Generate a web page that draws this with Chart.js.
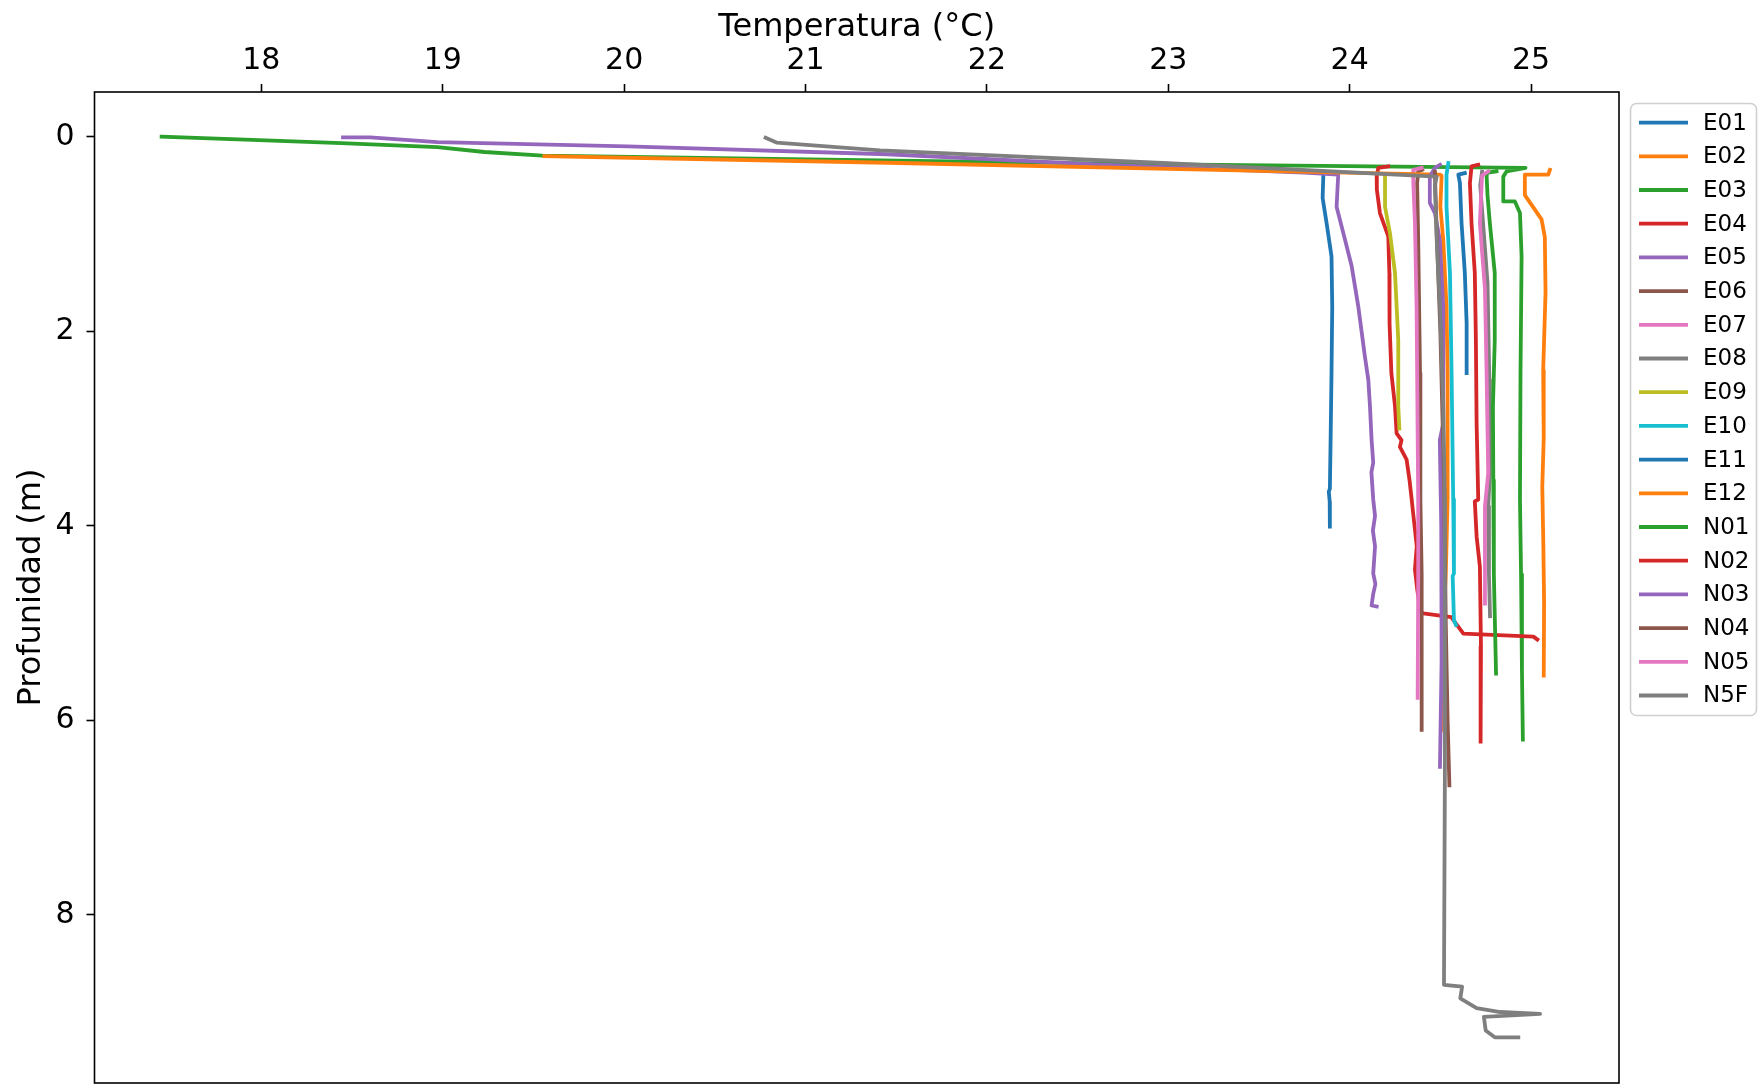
<!DOCTYPE html>
<html>
<head>
<meta charset="utf-8">
<title>Perfiles de temperatura</title>
<script src="https://cdn.jsdelivr.net/npm/chart.js@4.4.1/dist/chart.umd.min.js"></script>
<style>
  html, body { margin: 0; padding: 0; background: #fff; }
  #wrap { width: 1764px; height: 1088px; position: relative; }
</style>
</head>
<body>
<div id="wrap"><canvas id="profiles"></canvas></div>
<script>
// Station names, in plotting order
const stations = ["E01", "E02", "E03", "E04", "E05", "E06", "E07", "E08", "E09",
  "E10", "E11", "E12", "N01", "N02", "N03", "N04", "N05", "N5F"];

// Axis ticks
const xTicks = [18, 19, 20, 21, 22, 23, 24, 25];
const yTicks = [0, 2, 4, 6, 8];

// Temperature (°C) and depth (m) per station
const e01T = [23.855, 23.851, 23.873, 23.90, 23.904, 23.90, 23.895, 23.891, 23.885, 23.89, 23.891];
const e01D = [0.39, 0.63, 0.89, 1.23, 1.75, 2.43, 3.12, 3.62, 3.65, 3.75, 4.01];

const e02T = [25.104, 25.095, 24.966, 24.966, 25.058, 25.076, 25.08, 25.067, 25.07, 25.062, 25.068, 25.072, 25.07];
const e02D = [0.34, 0.39, 0.39, 0.60, 0.85, 1.03, 1.6, 2.4, 3.1, 3.6, 4.2, 4.8, 5.54];

const e03T = [17.45, 17.91, 18.44, 18.97, 19.23, 19.55, 21.41, 23.0, 24.97, 24.865, 24.847, 24.847, 24.911, 24.939, 24.948, 24.942, 24.939, 24.945, 24.95, 24.955];
const e03D = [0.0, 0.03, 0.065, 0.106, 0.157, 0.195, 0.244, 0.285, 0.32, 0.357, 0.41, 0.665, 0.665, 0.785, 1.23, 2.43, 3.73, 4.5, 5.5, 6.2];

const e04T = [24.213, 24.158, 24.149, 24.15, 24.167, 24.213, 24.219, 24.22, 24.23, 24.25, 24.259, 24.286, 24.277, 24.314, 24.33, 24.342, 24.35, 24.37, 24.36, 24.373, 24.39, 24.406, 24.56, 24.627, 25.013, 25.035];
const e04D = [0.305, 0.32, 0.408, 0.545, 0.785, 1.025, 1.40, 1.92, 2.43, 2.77, 3.05, 3.12, 3.19, 3.32, 3.53, 3.73, 3.87, 4.21, 4.45, 4.66, 4.88, 4.90, 4.94, 5.11, 5.14, 5.17];

const e05T = [18.45, 18.6, 18.97, 20.02, 21.45, 22.66, 23.75, 23.937, 23.928, 23.965, 24.011, 24.048, 24.084, 24.103, 24.112, 24.121, 24.13, 24.12, 24.13, 24.14, 24.128, 24.14, 24.13, 24.142, 24.13, 24.121, 24.149];
const e05D = [0.007, 0.007, 0.055, 0.10, 0.18, 0.29, 0.37, 0.39, 0.72, 0.99, 1.33, 1.75, 2.26, 2.50, 2.77, 3.12, 3.35, 3.45, 3.73, 3.9, 4.05, 4.21, 4.49, 4.6, 4.7, 4.82, 4.83];

const e06T = [24.40, 24.378, 24.372, 24.378, 24.388, 24.39, 24.397, 24.397];
const e06D = [0.34, 0.357, 0.477, 1.06, 2.43, 3.73, 4.5, 6.10];

const e07T = [24.397, 24.351, 24.351, 24.36, 24.369, 24.378, 24.378, 24.375];
const e07D = [0.32, 0.34, 0.477, 0.89, 1.75, 3.73, 4.56, 5.77];

const e08T = [24.73, 24.72, 24.74, 24.76, 24.77, 24.773, 24.764, 24.768, 24.774];
const e08D = [0.36, 0.5, 1.0, 1.5, 2.5, 3.46, 3.8, 4.5, 4.93];

const e09T = [24.195, 24.195, 24.222, 24.25, 24.268, 24.268, 24.274];
const e09D = [0.39, 0.72, 0.99, 1.40, 2.09, 2.77, 3.0];

const e10T = [24.544, 24.534, 24.534, 24.553, 24.562, 24.571, 24.575, 24.568, 24.575, 24.586];
const e10D = [0.27, 0.39, 0.72, 1.40, 2.43, 3.73, 4.49, 4.52, 4.97, 5.02];

const e11T = [24.635, 24.599, 24.608, 24.617, 24.635, 24.645, 24.645];
const e11D = [0.374, 0.39, 0.477, 0.89, 1.40, 1.92, 2.43];

const e12T = [19.56, 21.52, 23.0, 24.50, 24.507, 24.50, 24.516, 24.534, 24.54, 24.54, 24.53, 24.51, 24.51];
const e12D = [0.20, 0.27, 0.33, 0.39, 0.40, 0.72, 1.06, 1.75, 2.43, 3.73, 4.5, 5.3, 6.1];

const n01T = [24.81, 24.76, 24.755, 24.76, 24.773, 24.80, 24.80, 24.79, 24.792, 24.795, 24.807];
const n01D = [0.355, 0.37, 0.40, 0.6, 0.89, 1.40, 2.09, 2.77, 3.53, 4.5, 5.52];

const n02T = [24.709, 24.672, 24.663, 24.672, 24.69, 24.696, 24.70, 24.709, 24.69, 24.70, 24.718, 24.724, 24.722];
const n02D = [0.288, 0.305, 0.477, 0.89, 1.40, 2.09, 2.95, 3.73, 3.75, 4.11, 4.42, 5.24, 6.22];

const n03T = [24.498, 24.47, 24.442, 24.442, 24.47, 24.497, 24.516, 24.516, 24.497, 24.505, 24.507, 24.498];
const n03D = [0.288, 0.32, 0.408, 0.68, 0.785, 1.06, 1.75, 2.95, 3.12, 4.0, 5.38, 6.48];

const n04T = [24.47, 24.48, 24.50, 24.52, 24.53, 24.54, 24.55];
const n04D = [0.36, 1.0, 2.0, 3.5, 5.0, 6.0, 6.67];

const n05T = [24.764, 24.73, 24.718, 24.746, 24.755, 24.764, 24.746, 24.746];
const n05D = [0.357, 0.40, 0.89, 1.57, 2.43, 3.46, 3.8, 4.80];

const n5fT = [20.78, 20.84, 21.41, 22.97, 24.48, 24.47, 24.48, 24.498, 24.516, 24.525, 24.525, 24.52, 24.62, 24.61, 24.70, 24.83, 25.05, 24.74, 24.75, 24.80, 24.93];
const n5fD = [0.01, 0.06, 0.14, 0.27, 0.41, 0.5, 1.06, 1.75, 2.77, 3.73, 6.6, 8.72, 8.74, 8.86, 8.96, 9.0, 9.02, 9.05, 9.19, 9.26, 9.26];

const temps = [e01T, e02T, e03T, e04T, e05T, e06T, e07T, e08T, e09T, e10T, e11T, e12T, n01T, n02T, n03T, n04T, n05T, n5fT];
const depths = [e01D, e02D, e03D, e04D, e05D, e06D, e07D, e08D, e09D, e10D, e11D, e12D, n01D, n02D, n03D, n04D, n05D, n5fD];

// matplotlib tab10 cycle
const palette = ["#1f77b4", "#ff7f0e", "#2ca02c", "#d62728", "#9467bd",
  "#8c564b", "#e377c2", "#7f7f7f", "#bcbd22", "#17becf"];

const FONT = "'DejaVu Sans', 'Liberation Sans', sans-serif";
const LINE_W = 3.8;

const datasets = stations.map((name, i) => ({
  label: name,
  data: temps[i].map((t, k) => ({ x: t, y: depths[i][k] })),
  borderColor: palette[i % 10],
  backgroundColor: palette[i % 10],
  borderWidth: LINE_W,
  borderJoinStyle: "round",
  borderCapStyle: "square",
  pointRadius: 0,
  tension: 0,
  fill: false,
  order: -i, // later stations on top, like matplotlib
}));

// Black frame round the plot area
const frame = {
  id: "frame",
  afterDatasetsDraw(chart) {
    const { ctx, chartArea: a } = chart;
    ctx.save();
    ctx.strokeStyle = "#000";
    ctx.lineWidth = 1.6;
    ctx.strokeRect(a.left, a.top, a.right - a.left, a.bottom - a.top);
    ctx.restore();
  },
};

// Legend box outside the plot, on the right
const legendBox = {
  id: "legendBox",
  afterDraw(chart) {
    const ctx = chart.ctx;
    const x0 = 1630.5, y0 = 103.5, w = 126, h = 612, r = 6;
    ctx.save();
    ctx.beginPath();
    ctx.roundRect(x0, y0, w, h, r);
    ctx.fillStyle = "rgba(255,255,255,0.8)";
    ctx.fill();
    ctx.strokeStyle = "#d0d0d0";
    ctx.lineWidth = 1.6;
    ctx.stroke();

    ctx.font = "23px " + FONT;
    ctx.textBaseline = "middle";
    ctx.textAlign = "left";
    stations.forEach((name, i) => {
      const y = 122.6 + i * 33.7;
      ctx.beginPath();
      ctx.moveTo(1639, y);
      ctx.lineTo(1688, y);
      ctx.strokeStyle = palette[i % 10];
      ctx.lineWidth = LINE_W;
      ctx.stroke();
      ctx.fillStyle = "#000";
      ctx.fillText(name, 1703, y + 1);
    });
    ctx.restore();
  },
};

const ctx = document.getElementById("profiles").getContext("2d");
new Chart(ctx, {
  type: "line",
  data: { datasets: datasets },
  options: {
    responsive: true,
    maintainAspectRatio: false,
    animation: false,
    events: [],
    layout: { padding: { top: 0, left: 0, right: 145, bottom: 5 } },
    plugins: {
      legend: { display: false },
      tooltip: { enabled: false },
    },
    scales: {
      x: {
        type: "linear",
        position: "top",
        min: 17.08,
        max: 25.485,
        afterBuildTicks: (scale) => {
          scale.ticks = xTicks.map((v) => ({ value: v }));
        },
        afterFit: (scale) => {
          scale.height = 92;
          scale.paddingLeft = 0;
          scale.paddingRight = 0;
        },
        ticks: {
          autoSkip: false,
          maxRotation: 0,
          padding: 5,
          color: "#000",
          font: { family: FONT, size: 30 },
        },
        grid: {
          drawOnChartArea: false,
          drawTicks: true,
          tickLength: 8,
          tickColor: "#000",
          tickWidth: 1.6,
        },
        border: { display: false },
        title: {
          display: true,
          text: "Temperatura (°C)",
          color: "#000",
          font: { family: FONT, size: 32 },
          padding: { top: 8, bottom: 0 },
        },
      },
      y: {
        type: "linear",
        reverse: true,
        min: -0.46,
        max: 9.73,
        afterBuildTicks: (scale) => {
          scale.ticks = yTicks.map((v) => ({ value: v }));
        },
        afterFit: (scale) => {
          scale.width = 94.5;
          scale.paddingTop = 0;
          scale.paddingBottom = 0;
        },
        ticks: {
          padding: 12,
          color: "#000",
          font: { family: FONT, size: 30 },
        },
        grid: {
          drawOnChartArea: false,
          drawTicks: true,
          tickLength: 8,
          tickColor: "#000",
          tickWidth: 1.6,
        },
        border: { display: false },
        title: {
          display: true,
          text: "Profunidad (m)",
          color: "#000",
          font: { family: FONT, size: 32 },
          padding: { top: 12, bottom: 0 },
        },
      },
    },
  },
  plugins: [frame, legendBox],
});
</script>
</body>
</html>
